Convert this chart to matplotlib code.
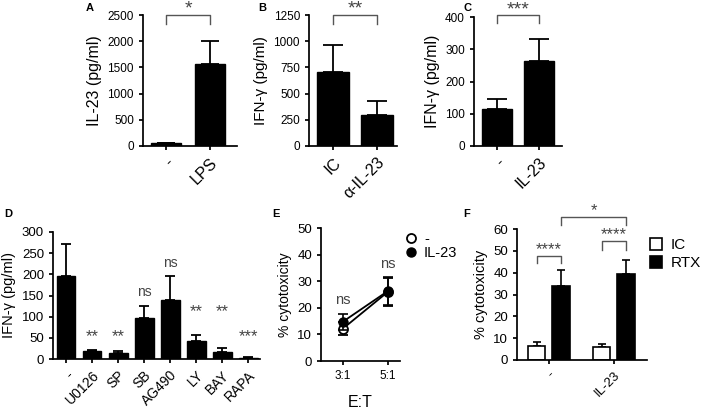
import matplotlib
matplotlib.use("Agg")
import matplotlib.pyplot as plt
from matplotlib.lines import Line2D
import numpy as np

plt.rcParams['font.family'] = ['Liberation Sans', 'DejaVu Sans']
plt.rcParams['axes.linewidth'] = 1.25
plt.rcParams['xtick.major.width'] = 1.25
plt.rcParams['ytick.major.width'] = 1.25
plt.rcParams['xtick.major.size'] = 3
plt.rcParams['ytick.major.size'] = 3

# ---------------- data ----------------
a_cats = ['-', 'LPS']
a_vals = [50, 1570]
a_err = [10, 430]
a_ticks = [0, 500, 1000, 1500, 2000, 2500]

b_cats = ['IC', 'α-IL-23']
b_vals = [710, 295]
b_err = [255, 135]
b_ticks = [0, 250, 500, 750, 1000, 1250]

c_cats = ['-', 'IL-23']
c_vals = [115, 263]
c_err = [30, 70]
c_ticks = [0, 100, 200, 300, 400]

d_cats = ['-', 'U0126', 'SP', 'SB', 'AG490', 'LY', 'BAY', 'RAPA']
d_vals = [197, 18, 13, 98, 140, 42, 17, 3]
d_err = [75, 4, 7, 27, 55, 14, 8, 2]
d_sig = ['', '**', '**', 'ns', 'ns', '**', '**', '***']
d_ticks = [0, 50, 100, 150, 200, 250, 300]

e_cats = ['3:1', '5:1']
e_ctrl = [12.2, 26.0]
e_ctrl_err = [2.6, 5.2]
e_il23 = [14.8, 26.3]
e_il23_err = [3.0, 5.2]
e_sig = ['ns', 'ns']
e_ticks = [0, 10, 20, 30, 40, 50]

f_groups = ['-', 'IL-23']
f_ic = [6.5, 5.8]
f_ic_err = [1.7, 1.3]
f_rtx = [34.0, 39.5]
f_rtx_err = [7.0, 6.5]
f_ticks = [0, 10, 20, 30, 40, 50, 60]

# ---------------- layout helpers ----------------
W, H = 708, 413
fig = plt.figure(figsize=(W / 100, H / 100), dpi=100)


def ax_px(l, r, t, b):
    ax = fig.add_axes([l / W, 1 - b / H, (r - l) / W, (b - t) / H])
    ax.spines['top'].set_visible(False)
    ax.spines['right'].set_visible(False)
    ax.tick_params(direction='out', colors='black')
    return ax


SIGC = '#444444'


def bracket(ax, x0, x1, ytop, yleg, text, fs, tdy):
    ax.plot([x0, x0, x1, x1], [yleg, ytop, ytop, yleg], color='#555555', lw=1.0,
            clip_on=False)
    ax.text((x0 + x1) / 2, ytop + tdy, text, ha='center', va='center',
            fontsize=fs, color=SIGC, clip_on=False)


def bar_panel(ax, cats, vals, errs, ticks, width, xlim, capsize, ylabel, yfs, tfs, xfs):
    x = np.arange(len(cats))
    ax.bar(x, vals, width=width, color='black', edgecolor='black', zorder=2)
    ax.errorbar(x, vals, yerr=[np.zeros(len(errs)), errs], fmt='none',
                ecolor='black', elinewidth=1.3, capsize=capsize, capthick=1.3,
                zorder=1)
    ax.set_xlim(*xlim)
    ax.set_ylim(0, ticks[-1])
    ax.set_yticks(ticks)
    ax.set_yticklabels([str(t) for t in ticks], fontsize=tfs)
    ax.set_xticks(x)
    ax.set_xticklabels(cats, rotation=45, ha='right', rotation_mode='anchor',
                       fontsize=xfs)
    ax.set_ylabel(ylabel, fontsize=yfs)


# ---------------- Panel A ----------------
axA = ax_px(143, 237, 15, 146)
bar_panel(axA, a_cats, a_vals, a_err, a_ticks, 0.68, (-0.52, 1.61), 6.5,
          'IL-23 (pg/ml)', 11.5, 8.5, 11.5)
bracket(axA, 0, 1, 2500, 2330, '*', 14, 110)

# ---------------- Panel B ----------------
axB = ax_px(309, 397, 15, 146)
bar_panel(axB, b_cats, b_vals, b_err, b_ticks, 0.73, (-0.545, 1.45), 7,
          'IFN-γ (pg/ml)', 11, 8.5, 11.5)
bracket(axB, 0, 1, 1250, 1165, '**', 14, 55)

# ---------------- Panel C ----------------
axC = ax_px(474, 562, 17, 146)
bar_panel(axC, c_cats, c_vals, c_err, c_ticks, 0.71, (-0.55, 1.55), 7,
          'IFN-γ (pg/ml)', 11.5, 8.5, 11.5)
bracket(axC, 0, 1, 406, 381, '***', 14, 17)

# ---------------- Panel D ----------------
axD = ax_px(53, 260, 232, 359)
bar_panel(axD, d_cats, d_vals, d_err, d_ticks, 0.73, (-0.5, 7.46), 3.6,
          'IFN-γ (pg/ml)', 10.5, 9.5, 10)
d_sig_pos = [0, 52, 52, 158, 227, 112, 112, 52]
for i, s in enumerate(d_sig):
    if s:
        axD.text(i, d_sig_pos[i], s, ha='center', va='center',
                 fontsize=12 if s != 'ns' else 10, color=SIGC)

# ---------------- Panel E ----------------
axE = ax_px(321, 400, 228, 361)
ex = np.arange(len(e_cats))
axE.errorbar(ex, e_il23, yerr=e_il23_err, color='black', lw=1.3, marker='o',
             ms=6.5, mfc='black', mec='black', capsize=3.5, capthick=1.2,
             elinewidth=1.2, clip_on=False, zorder=3)
axE.errorbar(ex, e_ctrl, yerr=e_ctrl_err, color='black', lw=1.3, marker='o',
             ms=6.5, mfc='white', mec='black', mew=1.3, capsize=3.5, capthick=1.2,
             elinewidth=1.2, clip_on=False, zorder=2)
axE.set_xlim(-0.49, 1.27)
axE.set_ylim(0, 50)
axE.set_yticks(e_ticks)
axE.set_yticklabels([str(t) for t in e_ticks], fontsize=9.5)
axE.set_xticks(ex)
axE.set_xticklabels(e_cats, fontsize=8.5)
axE.set_xlabel('E:T', fontsize=11.5, labelpad=9)
axE.set_ylabel('% cytotoxicity', fontsize=10)
e_sig_pos = [23, 36.5]
for i, s in enumerate(e_sig):
    axE.text(i, e_sig_pos[i], s, ha='center', va='center', fontsize=10.5, color=SIGC)
handlesE = [Line2D([], [], ls='none', marker='o', ms=6.5, mfc='white', mec='black', mew=1.3),
            Line2D([], [], ls='none', marker='o', ms=6.5, mfc='black', mec='black')]
axE.legend(handlesE, ['-', 'IL-23'], loc='upper left', bbox_to_anchor=(0.99, 1.0),
           frameon=False, fontsize=10.5, handlelength=1.0, handletextpad=0.4,
           labelspacing=0.0, borderpad=0, borderaxespad=0.3)

# ---------------- Panel F ----------------
axF = ax_px(517, 647, 229, 360)
fx = np.arange(len(f_groups))
off = 0.19
bw = 0.27
axF.bar(fx - off, f_ic, width=bw, color='white', edgecolor='black', lw=1.2,
        zorder=2, label='IC')
axF.bar(fx + off, f_rtx, width=bw, color='black', edgecolor='black', lw=1.2,
        zorder=2, label='RTX')
axF.errorbar(fx - off, f_ic, yerr=[np.zeros(2), f_ic_err], fmt='none',
             ecolor='black', elinewidth=1.2, capsize=3, capthick=1.2, zorder=1)
axF.errorbar(fx + off, f_rtx, yerr=[np.zeros(2), f_rtx_err], fmt='none',
             ecolor='black', elinewidth=1.2, capsize=3, capthick=1.2, zorder=1)
axF.set_xlim(-0.49, 1.51)
axF.set_ylim(0, 60)
axF.set_yticks(f_ticks)
axF.set_yticklabels([str(t) for t in f_ticks], fontsize=9.5)
axF.set_xticks(fx)
axF.set_xticklabels(f_groups, rotation=45, ha='right', rotation_mode='anchor',
                    fontsize=9.5)
axF.set_ylabel('% cytotoxicity', fontsize=10.5)
bracket(axF, -off, off, 47.8, 44.4, '****', 12, 2.6)
bracket(axF, 1 - off, 1 + off, 54.6, 50.4, '****', 12, 2.6)
bracket(axF, off, 1 + off, 65.6, 61.8, '*', 12, 3.0)
axF.legend(loc='upper left', bbox_to_anchor=(1.02, 0.93), frameon=False,
           fontsize=11, handlelength=0.8, handleheight=0.8, handletextpad=0.6,
           labelspacing=0.25, borderpad=0, borderaxespad=0)

# ---------------- panel letters ----------------
for lab, (px, py) in {'A': (90, 8), 'B': (262, 8), 'C': (468, 8),
                      'D': (8, 214), 'E': (276, 214), 'F': (467, 214)}.items():
    fig.text(px / W, 1 - py / H, lab, fontsize=8, fontweight='bold',
             ha='center', va='center')

fig.savefig('out.png', dpi=100)
